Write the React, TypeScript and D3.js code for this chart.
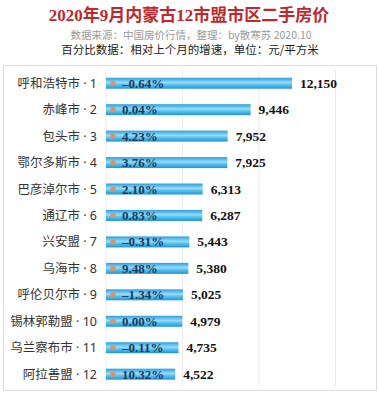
import * as d3 from "d3";

const cities = [
  "呼和浩特市", "赤峰市", "包头市", "鄂尔多斯市", "巴彦淖尔市", "通辽市",
  "兴安盟", "乌海市", "呼伦贝尔市", "锡林郭勒盟", "乌兰察布市", "阿拉善盟",
];
const prices = [12150, 9446, 7952, 7925, 6313, 6287, 5443, 5380, 5025, 4979, 4735, 4522];
const changes = [-0.64, 0.04, 4.23, 3.76, 2.1, 0.83, -0.31, 9.48, -1.34, 0.0, -0.11, 10.32];
const gridTicks = [0, 5000, 10000, 15000];

const W = 379;
const H = 400;

const serif = "'Liberation Serif', 'DejaVu Serif', 'Noto Sans CJK SC', serif";
const sans = "'Noto Sans CJK SC', 'Noto Sans', sans-serif";
const labelFont = "'Noto Sans', 'Noto Sans CJK SC', sans-serif";

export default function App() {
  const x = d3.scaleLinear().domain([0, 15000]).range([106, 335.6]);
  const y = d3
    .scaleBand<number>()
    .domain(d3.range(cities.length))
    .range([70, 387.4])
    .padding(0);
  const barH = 11;
  const fmtPrice = d3.format(",");
  const fmtPct = (v: number) => d3.format(".2f")(v).replace("−", "–") + "%";

  return (
    <svg width={W} height={H} style={{ position: "absolute", left: 0, top: 0 }}>
      <defs>
        <linearGradient id="barGrad" x1="0" y1="0" x2="0" y2="1">
          <stop offset="0%" stopColor="#2a9fdc" />
          <stop offset="45%" stopColor="#9adcf9" />
          <stop offset="60%" stopColor="#5ec6f2" />
          <stop offset="100%" stopColor="#2196d4" />
        </linearGradient>
      </defs>
      <rect width={W} height={H} fill="#fff" />
      <rect x={3.5} y={65.5} width={373} height={325} fill="none" stroke="#dcdcdc" />

      <text x={189} y={21} textAnchor="middle" fontFamily={serif} fontWeight="bold"
        fontSize={17} fill="#c1272d">
        2020年9月内蒙古12市盟市区二手房价
      </text>
      <text x={191} y={39} textAnchor="middle" fontFamily={sans} fontSize={10.5} fill="#9a9a9a">
        数据来源：中国房价行情，整理：by散寒苏  2020.10
      </text>
      <text x={190} y={53.5} textAnchor="middle" fontFamily={sans} fontSize={11.5} fill="#1a1a1a">
        百分比数据：相对上个月的增速，单位：元/平方米
      </text>

      {gridTicks.map((t) => (
        <line key={t} x1={x(t)} x2={x(t)} y1={70} y2={386} stroke="#ebebeb" strokeWidth={1} />
      ))}

      {cities.map((c, i) => {
        const cy = (y(i) ?? 0) + y.bandwidth() / 2;
        return (
          <g key={c}>
            <text x={97} y={cy + 4.5} textAnchor="end" fontFamily={labelFont} fontSize={12.5} fill="#333">
              {`${c} · ${i + 1}`}
            </text>
            <rect x={x(0)} y={cy - barH / 2} width={x(prices[i]) - x(0)} height={barH}
              fill="url(#barGrad)" />
            <circle cx={113} cy={cy} r={2.6} fill="#e0925a" />
            <text x={122} y={cy + 4.5} fontFamily={serif} fontWeight="bold" fontSize={13} fill="#1d3a5a">
              {fmtPct(changes[i])}
            </text>
            <text x={x(prices[i]) + 8} y={cy + 4.5} fontFamily={serif} fontWeight="bold" fontSize={13.5}
              fill="#111">
              {fmtPrice(prices[i])}
            </text>
          </g>
        );
      })}
    </svg>
  );
}
